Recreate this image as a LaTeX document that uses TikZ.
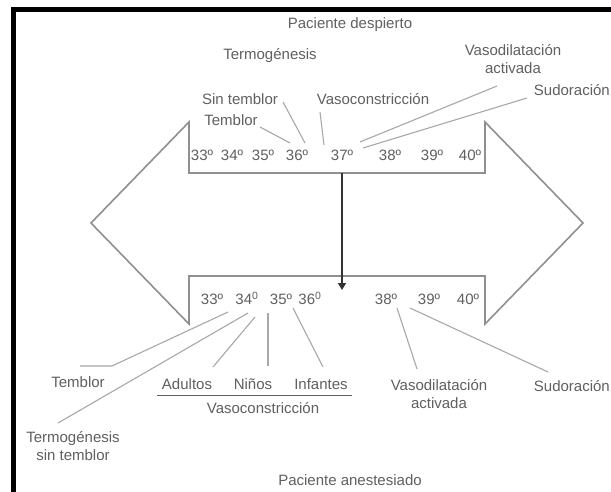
\documentclass[tikz,border=0pt]{standalone}
\usepackage{fontspec}
\setmainfont{Liberation Sans}
\usetikzlibrary{arrows.meta}
\definecolor{txtgray}{HTML}{606060}
\definecolor{leadgray}{HTML}{A8A8A8}
\definecolor{shapegray}{HTML}{909090}
\begin{document}
\begin{tikzpicture}[x=1pt,y=-1pt,
  lbl/.style={font=\fontsize{15}{18}\selectfont, text=txtgray, inner sep=1pt, text height=10.7pt, text depth=0pt},
  lbl2/.style={font=\fontsize{15}{18}\selectfont, text=txtgray, inner sep=1pt, align=center},
  lead/.style={draw=leadgray, line width=1.1pt},
  outline/.style={draw=shapegray, line width=1.6pt, line join=miter},
  frame/.style={draw=black, line width=5pt}]
\useasboundingbox (0,0) rectangle (611,492);
\fill[white] (0,0) rectangle (611,492);
% frame
\draw[frame] (13.5,500) -- (13.5,10) -- (620,10);
% double arrow outline
\draw[outline] (91,223) -- (189,122) -- (189,173) -- (485,173) -- (485,122) -- (583,223)
  -- (485,324) -- (485,276) -- (189,276) -- (189,324) -- cycle;
% upper labels
\node[lbl] (pd) at (350,23) {Paciente despierto};
\node[lbl] (termo) at (270,54) {Termogénesis};
\node[lbl] (sint) at (240,99) {Sin temblor};
\node[lbl] (vcU) at (373,99) {Vasoconstricción};
\node[lbl] (tU) at (231,120) {Temblor};
\node[lbl2] (vdU) at (513,59) {Vasodilatación\\activada};
\node[lbl, anchor=east] (sudU) at (611,90) {Sudoración};
% upper numbers
\foreach \n/\x in {33/202,34/232,35/263,36/297,37/342,38/390,39/432,40/470}
  \node[lbl] (u\n) at (\x,155) {\n º};
% upper leader ends
\coordinate (a1) at (260,127); \coordinate (a2) at (290,143);
\coordinate (b1) at (283,102); \coordinate (b2) at (305,143);
\coordinate (c1) at (320,112); \coordinate (c2) at (324,145);
\coordinate (d1) at (360,142); \coordinate (d2) at (497,86);
\coordinate (e1) at (363,148); \coordinate (e2) at (527,98);
\draw[lead] (a1) -- (a2);
\draw[lead] (b1) -- (b2);
\draw[lead] (c1) -- (c2);
\draw[lead] (d1) -- (d2);
\draw[lead] (e1) -- (e2);
% central arrow
\coordinate (arrS) at (342,173);
\coordinate (arrE) at (342,290);
\draw[draw=black!80, line width=1.5pt, -{Triangle[length=7pt,width=8pt]}] (arrS) -- (arrE);
% lower numbers
\node[lbl] (l33) at (212,299) {33º};
\node[lbl] (l34) at (247,299) {34\textsuperscript{0}};
\node[lbl] (l35) at (281,299) {35º};
\node[lbl] (l36) at (310,299) {36\textsuperscript{0}};
\node[lbl] (l38) at (386,299) {38º};
\node[lbl] (l39) at (429,299) {39º};
\node[lbl] (l40) at (468,299) {40º};
% lower labels
\node[lbl] (tL) at (78,382) {Temblor};
\node[lbl2] (tsL) at (73,446) {Termogénesis\\sin temblor};
\node[lbl] (adu) at (187,384) {Adultos};
\node[lbl] (nin) at (253,384) {Niños};
\node[lbl] (inf) at (321,384) {Infantes};
\coordinate (ul1) at (157,395); \coordinate (ul2) at (352,395);
\draw[draw=txtgray, line width=0.9pt] (ul1) -- (ul2);
\node[lbl] (vcL) at (263,408) {Vasoconstricción};
\node[lbl2] (vdL) at (439,394) {Vasodilatación\\activada};
\node[lbl, anchor=east] (sudL) at (611,386) {Sudoración};
\node[lbl] (pa) at (350,480) {Paciente anestesiado};
% lower leaders
\coordinate (f1) at (228,312); \coordinate (f2) at (112,366); \coordinate (f3) at (80,366);
\coordinate (g1) at (248,313); \coordinate (g2) at (58,423);
\coordinate (h1) at (255,317); \coordinate (h2) at (213,367);
\coordinate (i1) at (268,313); \coordinate (i2) at (268,366);
\coordinate (j1) at (293,308); \coordinate (j2) at (323,367);
\coordinate (k1) at (397,308); \coordinate (k2) at (417,369);
\coordinate (m1) at (410,308); \coordinate (m2) at (548,372);
\draw[lead] (f1) -- (f2) -- (f3);
\draw[lead] (g1) -- (g2);
\draw[lead] (h1) -- (h2);
\draw[lead] (i1) -- (i2);
\draw[lead] (j1) -- (j2);
\draw[lead] (k1) -- (k2);
\draw[lead] (m1) -- (m2);
\end{tikzpicture}
\end{document}
